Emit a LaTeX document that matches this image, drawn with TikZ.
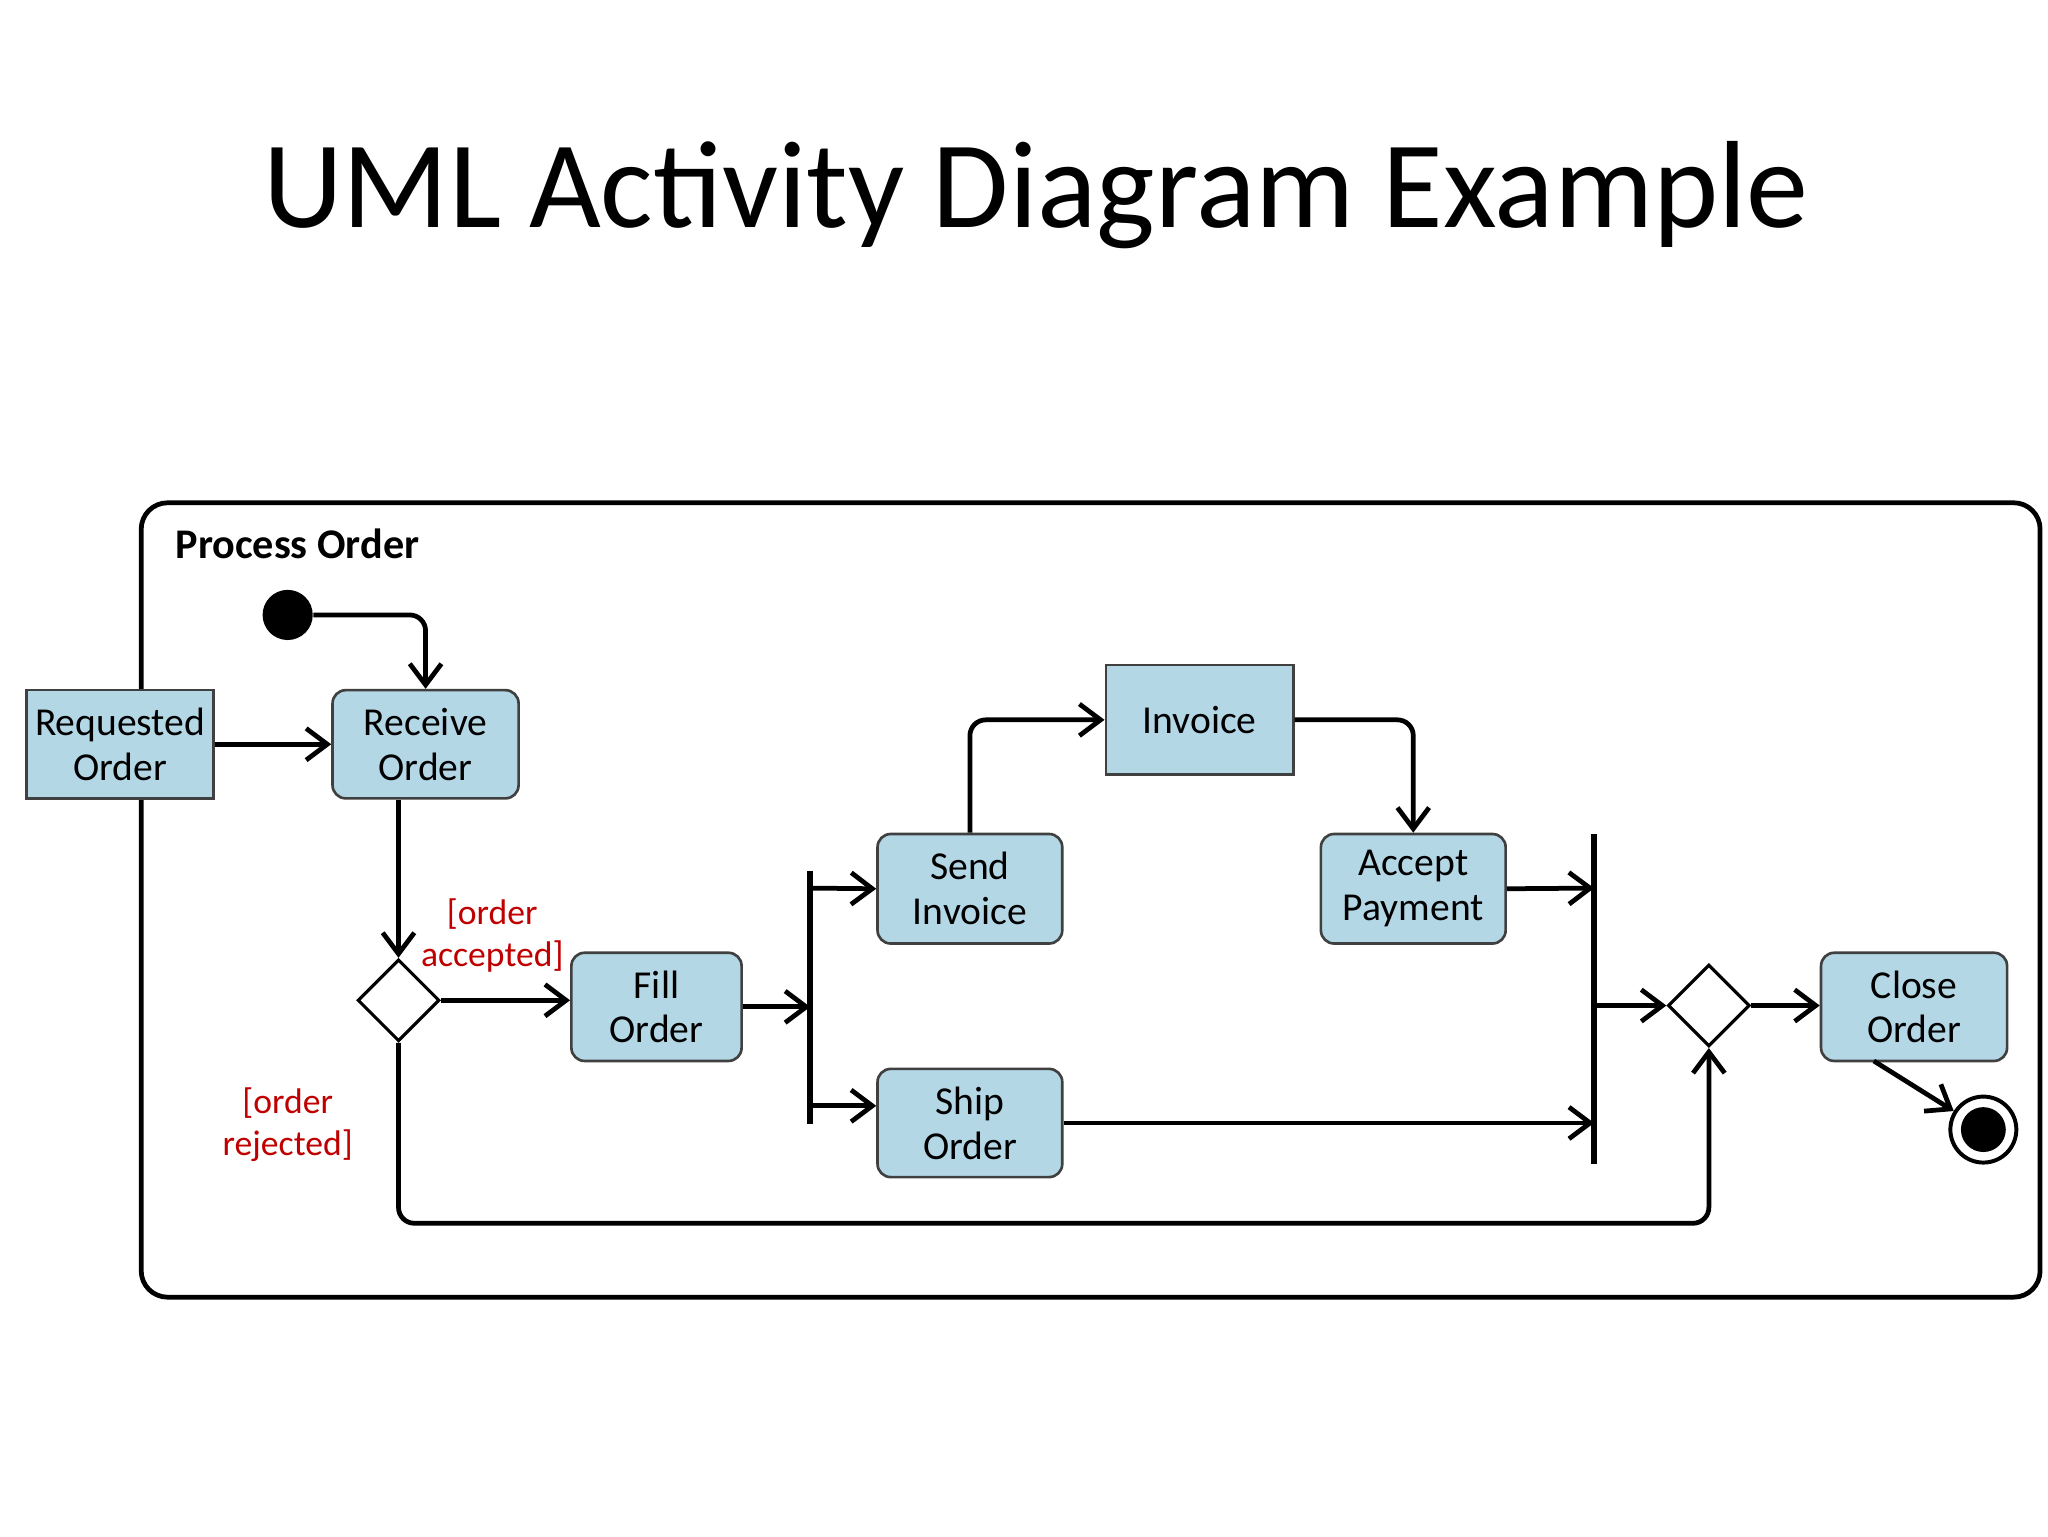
\documentclass[tikz,border=0pt]{standalone}
\usepackage{fontspec}
\setmainfont{Carlito}
\usetikzlibrary{arrows.meta,shapes.geometric}
\definecolor{act}{HTML}{B4D7E6}
\definecolor{grd}{HTML}{C00000}
\begin{document}
\begin{tikzpicture}[x=0.5pt,y=-0.5pt,
  act/.style={draw=black!75,line width=1pt,fill=act,rounded corners=5pt,align=center,font=\fontsize{15}{17}\selectfont,inner sep=0pt},
  obj/.style={act,rounded corners=0pt},
  dec/.style={draw=black,line width=1.2pt,fill=white,diamond,minimum width=31pt,minimum height=31pt,inner sep=0pt},
  bar/.style={draw=black,line width=2.2pt},
  flow/.style={line width=1.8pt,-{Straight Barb[length=8pt,width=12pt,line width=1.8pt]},rounded corners=6pt},
  guard/.style={text=grd,align=center,font=\fontsize{13.5}{16}\selectfont}]
\useasboundingbox (0,0) rectangle (1552,1164);
\node[font=\fontsize{47}{56}\selectfont] (title) at (785,148) {UML Activity Diagram Example};
\draw[line width=1.8pt,rounded corners=10pt] (107,381) rectangle (1546,983);
\node[anchor=west,font=\bfseries\fontsize{16}{18}\selectfont] (po) at (126,412) {Process Order};
\node[circle,fill=black,minimum size=19pt,inner sep=0pt] (init) at (218,466) {};
\node[obj,minimum width=71pt,minimum height=41pt] (req) at (91,564) {Requested\\Order};
\node[act,minimum width=70.5pt,minimum height=41pt] (rec) at (322.5,564) {Receive\\Order};
\node[obj,minimum width=71pt,minimum height=41.5pt] (inv) at (909,545.5) {Invoice};
\node[act,minimum width=70pt,minimum height=41.5pt] (send) at (735,673.5) {Send\\Invoice};
\node[act,minimum width=70pt,minimum height=41.5pt] (acc) at (1071,673.5) {Accept\\Payment};
\node[act,minimum width=64.5pt,minimum height=41pt] (fill) at (497.5,763) {Fill\\Order};
\node[act,minimum width=70pt,minimum height=41pt] (ship) at (735,851) {Ship\\Order};
\node[act,minimum width=70.5pt,minimum height=41pt] (close) at (1450.5,763) {Close\\Order};
\node[dec] (d1) at (302,758) {};
\node[dec] (d2) at (1295,762) {};
\coordinate (f1) at (614,660); \coordinate (f2) at (614,852);
\draw[bar] (f1) -- (f2);
\coordinate (j1) at (1208,632); \coordinate (j2) at (1208,882);
\draw[bar] (j1) -- (j2);
\node[circle,draw=black,line width=1.5pt,fill=white,minimum size=25pt,inner sep=0pt] (fin) at (1503,856) {};
\node[circle,fill=black,minimum size=17pt,inner sep=0pt] at (fin) {};
\draw[flow] (init) -| (rec.north);
\draw[flow] (req) -- (rec);
\draw[flow] (rec.south -| d1) -- (d1.north);
\draw[flow] (d1.east) -- (fill.west |- d1);
\draw[flow] (fill.east) -- (614,763);
\draw[flow] (614,673) -- (send.west);
\draw[flow] (614,838) -- (ship.west |- 0,838);
\draw[flow] (send.north) |- (inv.west);
\draw[flow] (inv.east) -| (acc.north);
\draw[flow] (acc.east) -- (1208,673);
\draw[flow] (ship.east) -- (1208,851);
\draw[flow] (1208,762) -- (d2.west);
\draw[flow] (d2.east) -- (close.west |- d2);
\draw[flow] (d1.south) |- (1295,927) -- (d2.south);
\draw[flow,rounded corners=0pt] (1420,804) -- (fin);
\node[guard] (ga) at (373,709) {[order\\accepted]};
\node[guard] (gr) at (218,852) {[order\\rejected]};
\end{tikzpicture}
\end{document}
